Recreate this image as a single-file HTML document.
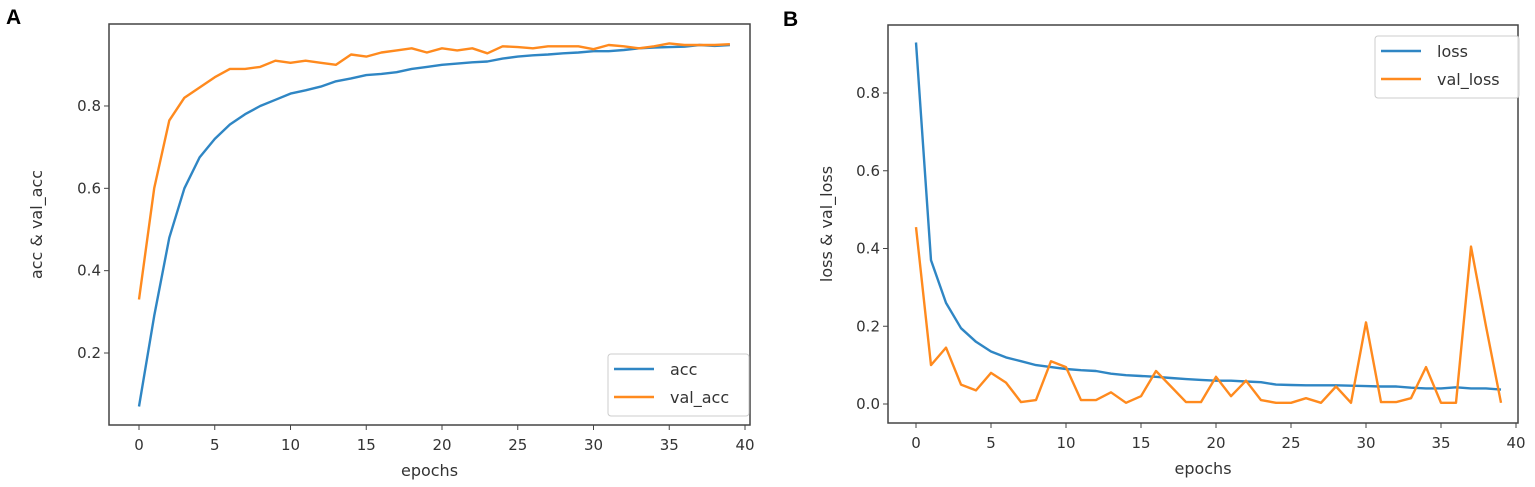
<!DOCTYPE html>
<html><head><meta charset="utf-8"><style>
html,body{margin:0;padding:0;background:#fff;}
svg{display:block;font-family:"DejaVu Sans","Liberation Sans",sans-serif;}
</style></head><body>
<svg id="s" width="1535" height="487" viewBox="0 0 1535 487" xmlns="http://www.w3.org/2000/svg">
<text x="6" y="24" font-family="Liberation Sans, sans-serif" font-weight="bold" font-size="21" fill="#000">A</text>
<text x="783" y="26" font-family="Liberation Sans, sans-serif" font-weight="bold" font-size="21" fill="#000">B</text>
<g id="g"></g>
</svg>
<script>
var acc=[0.07,0.29,0.48,0.60,0.675,0.72,0.755,0.78,0.80,0.815,0.83,0.838,0.847,0.86,0.867,0.875,0.878,0.882,0.89,0.895,0.90,0.903,0.906,0.908,0.915,0.92,0.923,0.925,0.928,0.93,0.933,0.933,0.936,0.94,0.942,0.943,0.944,0.948,0.946,0.948];
var vacc=[0.33,0.60,0.765,0.82,0.845,0.87,0.89,0.89,0.895,0.91,0.905,0.91,0.905,0.90,0.925,0.92,0.93,0.935,0.94,0.93,0.94,0.935,0.94,0.928,0.945,0.943,0.94,0.945,0.945,0.945,0.938,0.948,0.945,0.94,0.945,0.952,0.948,0.948,0.948,0.95];
var loss=[0.93,0.37,0.26,0.195,0.16,0.135,0.12,0.11,0.10,0.095,0.09,0.087,0.085,0.078,0.074,0.072,0.07,0.067,0.064,0.062,0.06,0.06,0.058,0.056,0.05,0.049,0.048,0.048,0.048,0.047,0.046,0.045,0.045,0.042,0.04,0.04,0.043,0.04,0.04,0.037];
var vloss=[0.455,0.1,0.145,0.05,0.035,0.08,0.055,0.005,0.01,0.11,0.095,0.01,0.01,0.03,0.003,0.02,0.085,0.045,0.005,0.005,0.07,0.02,0.06,0.01,0.003,0.003,0.015,0.003,0.045,0.003,0.21,0.005,0.005,0.015,0.095,0.003,0.003,0.405,0.2,0.003];
var h='';var B='#2f86c4',O='#ff8a1e';
function panel(o){
 var X=function(i){return o.x0+i*o.dx;},Y=function(v){return o.y0-(v-o.v0)*o.dy;};
 h+='<rect x="'+o.L+'" y="'+o.T+'" width="'+(o.R-o.L)+'" height="'+(o.Bt-o.T)+'" fill="none" stroke="#444" stroke-width="1.5"/>';
 for(var k=0;k<=40;k+=5){var x=X(k);h+='<line x1="'+x+'" y1="'+o.Bt+'" x2="'+x+'" y2="'+(o.Bt+5)+'" stroke="#444"/>';
  h+='<text x="'+x+'" y="'+(o.Bt+25)+'" text-anchor="middle" font-size="15" fill="#333">'+k+'</text>';}
 o.yt.forEach(function(v){var y=Y(v);h+='<line x1="'+(o.L-5)+'" y1="'+y+'" x2="'+o.L+'" y2="'+y+'" stroke="#444"/>';
  h+='<text x="'+(o.L-8)+'" y="'+(y+5)+'" text-anchor="end" font-size="15" fill="#333">'+v.toFixed(1)+'</text>';});
 h+='<text x="'+((o.L+o.R)/2)+'" y="'+(o.Bt+51)+'" text-anchor="middle" font-size="16" fill="#333">epochs</text>';
 h+='<text transform="translate('+o.yl+','+((o.T+o.Bt)/2)+') rotate(-90)" text-anchor="middle" font-size="16" fill="#333">'+o.ylab+'</text>';
 o.s.forEach(function(s){var p=s[0].map(function(v,i){return X(i).toFixed(1)+','+Y(v).toFixed(1);}).join(' ');
  h+='<polyline points="'+p+'" fill="none" stroke="'+s[1]+'" stroke-width="2.4" stroke-linejoin="round"/>';});
 var g=o.lg;h+='<rect x="'+g[0]+'" y="'+g[1]+'" width="'+g[2]+'" height="'+g[3]+'" rx="3" fill="#fff" fill-opacity="0.85" stroke="#ccc"/>';
 o.s.forEach(function(s,i){var y=g[1]+15+i*28;h+='<line x1="'+(g[0]+6)+'" y1="'+y+'" x2="'+(g[0]+46)+'" y2="'+y+'" stroke="'+s[1]+'" stroke-width="2.6"/>';
  h+='<text x="'+(g[0]+62)+'" y="'+(y+6)+'" font-size="16" fill="#333">'+s[2]+'</text>';});
}
panel({L:109,R:750,T:24,Bt:425,x0:139,dx:15.15,y0:353,v0:0.2,dy:411.7,yt:[0.2,0.4,0.6,0.8],yl:42,ylab:'acc &amp; val_acc',
 s:[[acc,B,'acc'],[vacc,O,'val_acc']],lg:[608,354,141,62]});
panel({L:888,R:1518,T:25,Bt:423,x0:916,dx:15,y0:404,v0:0,dy:388.75,yt:[0.0,0.2,0.4,0.6,0.8],yl:832,ylab:'loss &amp; val_loss',
 s:[[loss,B,'loss'],[vloss,O,'val_loss']],lg:[1375,36,144,62]});
document.getElementById('g').innerHTML=h;
</script>
</body></html>
